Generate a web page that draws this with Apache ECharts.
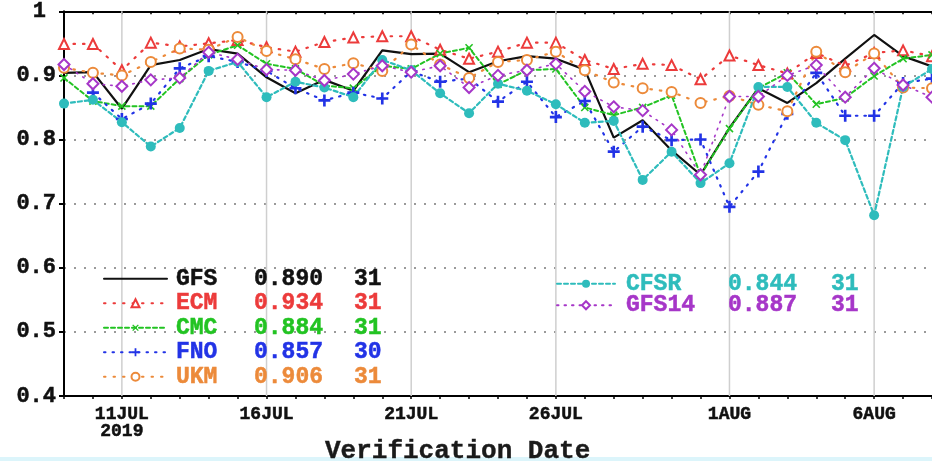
<!DOCTYPE html>
<html><head><meta charset="utf-8">
<script src="https://cdn.jsdelivr.net/npm/echarts@6/dist/echarts.min.js"></script>
<style>html,body{margin:0;padding:0;background:#fff}#c{width:932px;height:461px}</style>
</head><body><div id="c"></div>
<script>
// ---- data ----
const dates = ['9JUL','10JUL','11JUL','12JUL','13JUL','14JUL','15JUL','16JUL','17JUL','18JUL','19JUL','20JUL','21JUL','22JUL','23JUL','24JUL','25JUL','26JUL','27JUL','28JUL','29JUL','30JUL','31JUL','1AUG','2AUG','3AUG','4AUG','5AUG','6AUG','7AUG','8AUG'];
const tickLabels = ['11JUL','16JUL','21JUL','26JUL','1AUG','6AUG'];
const yearLabel = '2019';
const yTicks = [0.4, 0.5, 0.6, 0.7, 0.8, 0.9, 1.0];

const seriesNames = ['GFS','ECM','CMC','FNO','UKM','CFSR','GFS14'];
const seriesMeans = ['0.890','0.934','0.884','0.857','0.906','0.844','0.887'];
const seriesCounts = ['31','31','31','30','31','31','31'];

const gfs   = [0.904,0.905,0.848,0.916,0.924,0.941,0.934,0.897,0.872,0.893,0.876,0.939,0.933,0.934,0.905,0.922,0.930,0.926,0.909,0.803,0.830,0.783,0.745,0.818,0.880,0.857,0.888,0.926,0.963,0.930,0.914];
const ecm   = [0.949,0.949,0.908,0.951,0.945,0.950,0.955,0.944,0.937,0.952,0.959,0.961,0.961,0.940,0.926,0.937,0.951,0.951,0.924,0.910,0.918,0.916,0.894,0.931,0.916,0.903,0.935,0.915,0.935,0.939,0.930];
const cmc   = [0.896,0.860,0.852,0.852,0.895,0.932,0.947,0.918,0.910,0.884,0.880,0.915,0.910,0.934,0.943,0.886,0.908,0.910,0.850,0.838,0.850,0.869,0.744,0.817,0.880,0.904,0.855,0.865,0.899,0.926,0.932];
const fno   = [null,0.873,0.832,0.856,0.911,0.930,0.921,0.907,0.880,0.861,0.873,0.864,0.906,0.890,0.895,0.859,0.890,0.835,0.860,0.781,0.820,0.799,0.800,0.695,0.750,0.840,0.904,0.837,0.837,0.888,0.895];
const ukm   = [0.912,0.904,0.900,0.921,0.942,0.940,0.960,0.938,0.925,0.910,0.919,0.907,0.948,0.917,0.896,0.921,0.924,0.937,0.908,0.889,0.880,0.874,0.857,0.868,0.854,0.844,0.937,0.905,0.934,0.881,0.880];
const cfsr  = [0.856,0.862,0.827,0.789,0.818,0.907,0.921,0.866,0.890,0.881,0.866,0.924,0.908,0.872,0.841,0.887,0.876,0.855,0.826,0.829,0.737,0.781,0.732,0.763,0.882,0.882,0.826,0.799,0.682,0.882,0.910];
const gfs14 = [0.917,0.887,0.883,0.893,0.896,0.936,0.925,0.909,0.908,0.892,0.902,0.915,0.905,0.915,0.881,0.900,0.908,0.918,0.875,0.851,0.845,0.815,0.745,0.867,0.867,0.900,0.916,0.866,0.911,0.885,0.866];

// ---- styles ----
const FONT = 'Liberation Mono';
const TXT = '#111111';
const colors = ['#111111','#ec3b3b','#22c322','#2233e6','#ec8a3a','#2ebcbc','#a636c8'];
const plusPath = 'path://M3.9,0H6.1V3.9H10V6.1H6.1V10H3.9V6.1H0V3.9H3.9Z';
const crossPath = 'path://M4.2,0H5.8V4.2H10V5.8H5.8V10H4.2V5.8H0V4.2H4.2Z';
const tickIdx = tickLabels.map(t => dates.indexOf(t));
const gridStyle = { color: '#9a9a9a', width: 2, type: [2, 8] };

function mk(name, data, color, symbol, size, lineType, width, extra) {
  return Object.assign({
    name, type: 'line', data, xAxisIndex: 0, yAxisIndex: 0,
    symbol, symbolSize: size, showAllSymbol: true, connectNulls: false,
    animation: false, z: 3,
    itemStyle: { color, borderWidth: 1.8 },
    lineStyle: { color, width, type: lineType, cap: 'round' },
    emphasis: { disabled: true }
  }, extra || {});
}

// vertical grid lines at the labelled dates: thin bars from the axis scale
const vGridBars = {
  name: 'vgrid', type: 'bar', z: 1, silent: true, animation: false,
  xAxisIndex: 0, yAxisIndex: 0, barWidth: 1.5, barGap: '-100%',
  data: dates.map((d, i) => tickIdx.includes(i) ? yTicks[yTicks.length - 1] : '-'),
  itemStyle: { color: '#cfcfcf' },
  emphasis: { disabled: true }, tooltip: { show: false }
};

const series = [vGridBars].concat([
  mk('GFS', gfs, colors[0], 'circle', 0, 'solid', 2.2, { showSymbol: false }),
  mk('ECM', ecm, colors[1], 'emptyTriangle', 10, [1.5, 8], 2.2),
  mk('CMC', cmc, colors[2], crossPath, 10, [4, 3], 2, { symbolRotate: 45 }),
  mk('FNO', fno, colors[3], plusPath, 12, [1.5, 7], 2.2),
  mk('UKM', ukm, colors[4], 'emptyCircle', 10, [1.5, 8], 2.2),
  mk('CFSR', cfsr, colors[5], 'circle', 10, [4, 3], 2.2),
  mk('GFS14', gfs14, colors[6], 'emptyDiamond', 11, [1.5, 6], 1.6)
]);

const richLeft = { s: { width: 4 }, n: { width: 78 }, v: { width: 100 }, c: {} };
const richRight = { s: { width: 6 }, n: { width: 102 }, v: { width: 103 }, c: {} };
function legendFmt(name) {
  const i = seriesNames.indexOf(name);
  return '{s|}{n|' + name + '}{v|' + seriesMeans[i] + '}{c|' + seriesCounts[i] + '}';
}
function legendData(names) {
  return names.map(n => {
    const i = seriesNames.indexOf(n);
    const d = { name: n, textStyle: { color: colors[i], textBorderColor: colors[i], textBorderWidth: 0.5 } };
    if (n === 'GFS') d.itemStyle = { opacity: 0 };
    return d;
  });
}

const option = {
  backgroundColor: '#ffffff',
  animation: false,
  grid: { left: 64, right: -4, top: 11, bottom: 65, containLabel: false },
  title: {
    text: 'Verification Date', left: 320, top: 433,
    textStyle: { fontFamily: FONT, fontWeight: 'bold', fontSize: 26, color: '#1a1a1a', textBorderColor: '#1a1a1a', textBorderWidth: 0.4 }
  },
  legend: [{
    data: legendData(seriesNames.slice(0, 5)),
    orient: 'vertical', left: 98, top: 262,
    itemWidth: 63, itemHeight: 10, itemGap: 1, selectedMode: false,
    formatter: legendFmt,
    textStyle: { fontFamily: FONT, fontWeight: 'bold', fontSize: 23, lineHeight: 20, rich: richLeft }
  }, {
    data: legendData(seriesNames.slice(5)),
    orient: 'vertical', left: 551, top: 267,
    itemWidth: 58, itemHeight: 10, itemGap: -2, selectedMode: false,
    formatter: legendFmt,
    textStyle: { fontFamily: FONT, fontWeight: 'bold', fontSize: 23, lineHeight: 20, rich: richRight }
  }],
  xAxis: [{
    type: 'category', data: dates, boundaryGap: false, position: 'bottom',
    axisLine: { show: true, onZero: false, lineStyle: { color: '#000', width: 2 } },
    axisTick: { show: true, interval: 0, length: 3, lineStyle: { color: '#000', width: 1.5 } },
    axisLabel: {
      interval: (i) => tickIdx.includes(i),
      formatter: (v) => v === tickLabels[0] ? v + '\n' + yearLabel : v,
      fontFamily: FONT, fontWeight: 'bold', fontSize: 18, lineHeight: 17, color: TXT,
      textBorderColor: TXT, textBorderWidth: 0.5, margin: 10
    },
    splitLine: { show: false }
  }, {
    type: 'category', data: dates, boundaryGap: false, position: 'top',
    axisLine: { show: true, onZero: false, lineStyle: { color: '#000', width: 2 } },
    axisTick: { show: true, inside: true, interval: 0, length: 3, lineStyle: { color: '#000', width: 1.5 } },
    axisLabel: { show: false },
    splitLine: { show: false }
  }],
  yAxis: {
    type: 'value', min: yTicks[0], max: yTicks[yTicks.length - 1], interval: 0.1,
    axisLine: { show: true, lineStyle: { color: '#000', width: 2 } },
    axisTick: { show: true, length: 5, lineStyle: { color: '#000', width: 2 } },
    axisLabel: {
      formatter: (v) => {
        const s = String(Math.round(v * 10) / 10);
        return s.length === 1 ? '{p|' + s + '}' : s;
      },
      rich: { p: { padding: [0, 10, 0, 0] } },
      fontFamily: FONT, fontWeight: 'bold', fontSize: 22, color: TXT,
      textBorderColor: TXT, textBorderWidth: 0.5, margin: 8
    },
    splitLine: { show: true, lineStyle: Object.assign({}, gridStyle) }
  },
  graphic: [{
    type: 'rect', left: 0, top: 457, z: -1,
    shape: { width: 932, height: 4 }, style: { fill: '#dcf5fb' }
  }],
  series
};

const chart = echarts.init(document.getElementById('c'), null, { renderer: 'canvas' });
chart.setOption(option);
</script>
</body></html>
